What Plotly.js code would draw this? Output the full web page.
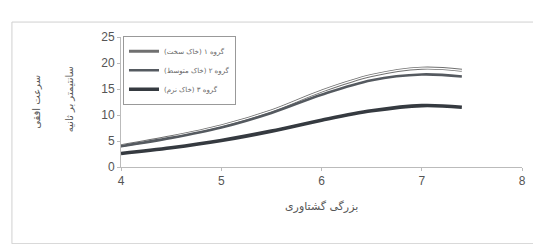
<!DOCTYPE html>
<html><head><meta charset="utf-8">
<script src="https://cdn.plot.ly/plotly-3.0.1.min.js"></script>
<style>body{margin:0;background:#fff}#c{width:533px;height:244px}</style>
</head><body><div id="c"></div>
<script>
const magnitude = [4, 4.5, 5, 5.5, 6, 6.5, 7, 7.4];
const group1 = [4.1, 5.8, 7.9, 10.8, 14.6, 17.6, 19.0, 18.6];
const group2 = [4.0, 5.6, 7.6, 10.4, 13.9, 16.7, 17.8, 17.4];
const group3 = [2.6, 3.7, 5.1, 6.9, 9.0, 10.8, 11.8, 11.5];
const names = ['گروه ۱ (خاک سخت)', 'گروه ۲ (خاک متوسط)', 'گروه ۳ (خاک نرم)'];
const xTitle = 'بزرگی گشتاوری';
const yTitle1 = 'سرعت افقی';
const yTitle2 = 'سانتیمتر بر ثانیه';

const traces = [
  {x: magnitude, y: group1, name: names[0], mode: 'lines', line: {shape: 'spline', color: '#707070', width: 3}},
  {x: magnitude, y: group1, showlegend: false, hoverinfo: 'skip', mode: 'lines', line: {shape: 'spline', color: '#ffffff', width: 1.3}},
  {x: magnitude, y: group2, name: names[1], mode: 'lines', line: {shape: 'spline', color: '#555a60', width: 2.6}},
  {x: magnitude, y: group3, name: names[2], mode: 'lines', line: {shape: 'spline', color: '#353a40', width: 3.6}}
];
const font = {family: 'Liberation Sans, Arial, sans-serif', color: '#555', size: 12};
const layout = {
  width: 533, height: 244,
  margin: {l: 121, r: 11, t: 37, b: 77},
  paper_bgcolor: '#fff', plot_bgcolor: '#fff',
  font: font,
  showlegend: true,
  legend: {x: 0.005, y: 1.01, xanchor: 'left', yanchor: 'top', bordercolor: '#999', borderwidth: 1,
           bgcolor: '#fff', font: {size: 7, color: '#666', family: 'DejaVu Sans, sans-serif'}, tracegroupgap: 0, itemwidth: 30},
  xaxis: {range: [4, 8], dtick: 1, showgrid: false, zeroline: false, showline: true, linecolor: '#bbb',
          ticks: 'outside', ticklen: 3, tickcolor: '#bbb', tickfont: {size: 12, color: '#555'}},
  yaxis: {range: [0, 25], dtick: 5, showgrid: false, zeroline: false, showline: true, linecolor: '#bbb',
          ticks: 'outside', ticklen: 3, tickcolor: '#bbb', tickfont: {size: 12, color: '#555'}},
  annotations: [
    {text: xTitle, xref: 'paper', yref: 'paper', x: 0.5, y: -0.37, showarrow: false, font: {size: 11, color: '#555', family: 'DejaVu Sans, sans-serif'}},
    {text: yTitle1, xref: 'paper', yref: 'paper', x: -0.2, xanchor: 'center', xshift: -5, y: 0.5, textangle: -90, showarrow: false, font: {size: 10, color: '#555', family: 'DejaVu Sans, sans-serif'}},
    {text: yTitle2, xref: 'paper', yref: 'paper', x: -0.115, xanchor: 'center', xshift: -5, y: 0.52, textangle: -90, showarrow: false, font: {size: 10, color: '#555', family: 'DejaVu Sans, sans-serif'}}
  ],
  shapes: [
    {type: 'rect', xref: 'paper', yref: 'paper', x0: -0.272, x1: 1.03, y0: -0.59, y1: 1.115, line: {color: '#d0d0d0', width: 1}}
  ]
};
Plotly.newPlot('c', traces, layout, {displayModeBar: false, staticPlot: true});
</script></body></html>
